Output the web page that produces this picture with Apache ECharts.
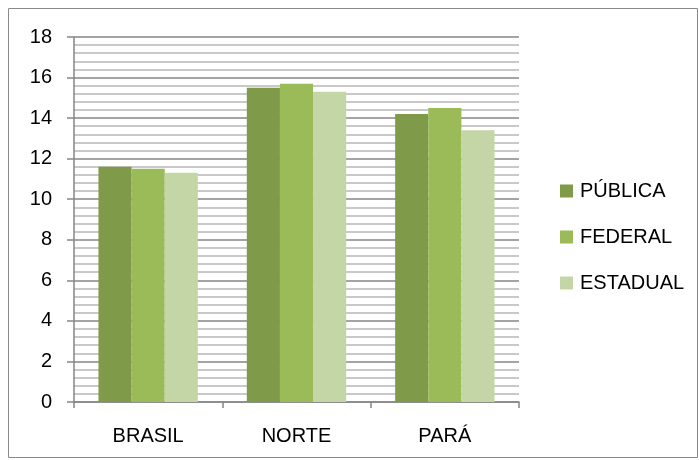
<!DOCTYPE html>
<html><head><meta charset="utf-8">
<script src="https://cdn.jsdelivr.net/npm/echarts@6/dist/echarts.min.js"></script>
<style>html,body{margin:0;padding:0;background:#fff}#c{width:699px;height:460px}</style>
</head><body><div id="c"></div>
<script>
const categories = ['BRASIL', 'NORTE', 'PARÁ'];
const seriesNames = ['PÚBLICA', 'FEDERAL', 'ESTADUAL'];
const publica = [11.6, 15.5, 14.2];
const federal = [11.5, 15.7, 14.5];
const estadual = [11.3, 15.3, 13.4];
const colors = ['#7F9A48', '#9BBB59', '#C4D6A6'];
const FONT = "'Liberation Sans Narrow', 'Liberation Sans', Arial, sans-serif";

const chart = echarts.init(document.getElementById('c'));
const values = [publica, federal, estadual];
chart.setOption({
  animation: false,
  graphic: [{type: 'rect', shape: {x: 8.5, y: 8.5, width: 689, height: 449}, style: {fill: 'none', stroke: '#8a8a8a', lineWidth: 1}}],
  grid: {left: 74, right: 180, top: 37, bottom: 58, containLabel: false},
  legend: {
    orient: 'vertical', left: 555, top: 176, itemWidth: 13, itemHeight: 13, itemGap: 26,
    icon: 'rect',
    textStyle: {fontFamily: FONT, fontSize: 20, color: '#000', padding: [0,0,0,2]},
    data: seriesNames
  },
  xAxis: {
    type: 'category', data: categories,
    axisLine: {lineStyle: {color: '#868686', width: 1.5}},
    axisTick: {show: true, length: 6, lineStyle: {color: '#868686', width: 1.5}},
    axisLabel: {fontFamily: FONT, fontSize: 20, color: '#000', margin: 24}
  },
  yAxis: {
    type: 'value', min: 0, max: 18, interval: 2,
    axisLine: {show: true, lineStyle: {color: '#868686', width: 1.5}},
    axisTick: {show: true, length: 7, lineStyle: {color: '#868686', width: 1.5}},
    axisLabel: {fontFamily: FONT, fontSize: 20, color: '#000', margin: 22},
    splitLine: {lineStyle: {color: '#868686', width: 1.5}},
    minorTick: {show: false, splitNumber: 5},
    minorSplitLine: {show: true, lineStyle: {color: '#b8b8b8', width: 1.5}}
  },
  series: seriesNames.map((n, i) => ({
    name: n, type: 'bar', data: values[i],
    barGap: '0%', barCategoryGap: '33%',
    itemStyle: {color: colors[i]}
  }))
});
</script></body></html>
